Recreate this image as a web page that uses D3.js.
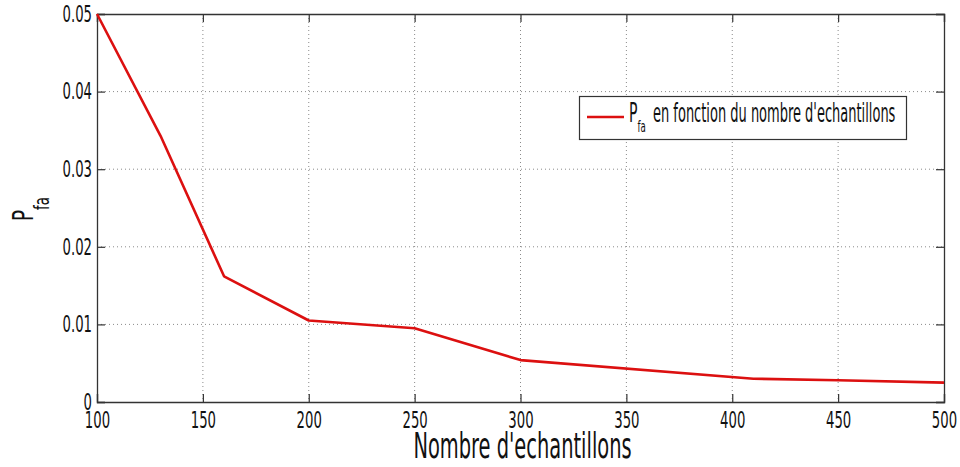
<!DOCTYPE html>
<html><head><meta charset="utf-8">
<script src="https://cdn.jsdelivr.net/npm/d3@7"></script>
<style>
body{margin:0;background:#fff;}
text{font-family:"Liberation Sans Narrow","DejaVu Sans Condensed",sans-serif;fill:#111;}
</style></head>
<body><svg id="c" width="960" height="467"></svg>
<script>
const samples = [100,130,160,200,250,300,410,450,500];
const pfa = [0.05,0.0343,0.0162,0.0105,0.0095,0.0054,0.0030,0.0028,0.0025];
const xTicks = [100,150,200,250,300,350,400,450,500];
const yTicks = [0,0.01,0.02,0.03,0.04,0.05];
const yTickLabels = ["0","0.01","0.02","0.03","0.04","0.05"];
const xLabel = "Nombre d'echantillons";
const legendText = "en fonction du nombre d'echantillons";

const svg = d3.select("#c");
const L=97, R=944, T=14, B=402;
const x = d3.scaleLinear().domain([100,500]).range([L,R]);
const y = d3.scaleLinear().domain([0,0.05]).range([B,T]);

// grid
const g = svg.append("g");
g.selectAll(".gx").data(xTicks.slice(1,-1)).enter().append("line")
 .attr("x1",d=>x(d)).attr("x2",d=>x(d)).attr("y1",T).attr("y2",B)
 .attr("stroke","#8a8a8a").attr("stroke-width",1).attr("stroke-dasharray","1,3");
g.selectAll(".gy").data(yTicks.slice(1,-1)).enter().append("line")
 .attr("y1",d=>y(d)).attr("y2",d=>y(d)).attr("x1",L).attr("x2",R)
 .attr("stroke","#8a8a8a").attr("stroke-width",1).attr("stroke-dasharray","1,3");

// axes (inward ticks)
const ax = svg.append("g").attr("transform",`translate(0,${B})`)
 .call(d3.axisBottom(x).tickValues(xTicks).tickSize(-8).tickPadding(10).tickFormat(d3.format("d")));
const axT = svg.append("g").attr("transform",`translate(0,${T})`)
 .call(d3.axisTop(x).tickValues(xTicks).tickSize(-8).tickFormat(""));
const ay = svg.append("g").attr("transform",`translate(${L},0)`)
 .call(d3.axisLeft(y).tickValues(yTicks).tickSize(-8).tickPadding(5).tickFormat((d,i)=>yTickLabels[i]));
const ayR = svg.append("g").attr("transform",`translate(${R},0)`)
 .call(d3.axisRight(y).tickValues(yTicks).tickSize(-8).tickFormat(""));
[ax,axT,ay,ayR].forEach(a=>{
  a.select(".domain").attr("stroke","#333").attr("stroke-width",1.3);
  a.selectAll(".tick line").attr("stroke","#333").attr("stroke-width",1.2);
  a.selectAll("text").style("font-size","23px").attr("fill","#111");
});
const sxT = 0.64;
ax.selectAll(".tick text").attr("dy","0.71em").attr("transform",`scale(${sxT},1)`);
ay.selectAll(".tick text").attr("x",-5/sxT).attr("transform",`scale(${sxT},1)`);

// line
svg.append("path").datum(samples.map((s,i)=>[s,pfa[i]]))
 .attr("d",d3.line().x(d=>x(d[0])).y(d=>y(d[1])))
 .attr("fill","none").attr("stroke","#dc1010").attr("stroke-width",2.6).attr("stroke-linejoin","round");

// x label
svg.append("g").attr("transform",`translate(${(L+R)/2+2},458) scale(0.6,1)`)
 .append("text").attr("text-anchor","middle").style("font-size","36px").text(xLabel);

// y label P_fa rotated
const yl = svg.append("g").attr("transform","translate(33,221) rotate(-90) scale(0.7,1)")
 .append("text").style("font-size","29px");
yl.append("tspan").text("P");
yl.append("tspan").text("fa").style("font-size","21px").attr("dy",16);

// legend
const lg = svg.append("g");
lg.append("rect").attr("x",579.5).attr("y",96.5).attr("width",327).attr("height",43)
 .attr("fill","#fff").attr("stroke","#333").attr("stroke-width",1.2);
lg.append("line").attr("x1",587).attr("x2",624).attr("y1",117).attr("y2",117)
 .attr("stroke","#dc1010").attr("stroke-width",2.6);
const lt = lg.append("g").attr("transform","translate(629,122) scale(0.6,1)").append("text").style("font-size","26px");
lt.append("tspan").text("P");
lt.append("tspan").text("fa").style("font-size","16px").attr("dy",10);
lg.append("g").attr("transform","translate(653,122) scale(0.556,1)").append("text").style("font-size","26px").text(legendText);
</script></body></html>
